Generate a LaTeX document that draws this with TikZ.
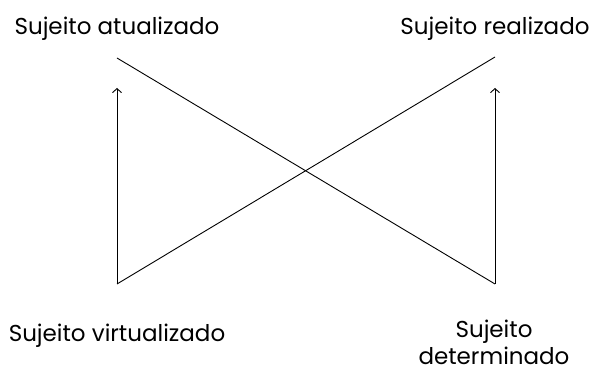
\documentclass[tikz,border=0pt]{standalone}
\usepackage{fontspec}
\setmainfont{Poppins}
\usetikzlibrary{arrows.meta}
\begin{document}
\begin{tikzpicture}[x=1pt,y=-1pt,
  lbl/.style={font=\fontsize{23}{27}\selectfont, inner sep=0pt, align=center, anchor=base},
  ln/.style={line width=0.9pt},
  arr/.style={line width=0.9pt,-{Straight Barb[length=4pt,width=9pt]}}]
\useasboundingbox (0,0) rectangle (594,371);
\node[lbl] (ta) at (117,35) {Sujeito atualizado};
\node[lbl] (tr) at (495,35) {Sujeito realizado};
\node[lbl] (tv) at (117,341) {Sujeito virtualizado};
\node[lbl, text depth=0pt] (td) at (494,364) {Sujeito\\determinado};
\coordinate (a1) at (117,58);
\coordinate (b1) at (495,284);
\coordinate (a2) at (117,284);
\coordinate (b2) at (495,57);
\coordinate (t1) at (117,88);
\coordinate (t2) at (495,88);
\draw[ln] (a1) -- (b1);
\draw[ln] (a2) -- (b2);
\draw[arr] (a2) -- (t1);
\draw[arr] (b1) -- (t2);
\end{tikzpicture}
\end{document}
